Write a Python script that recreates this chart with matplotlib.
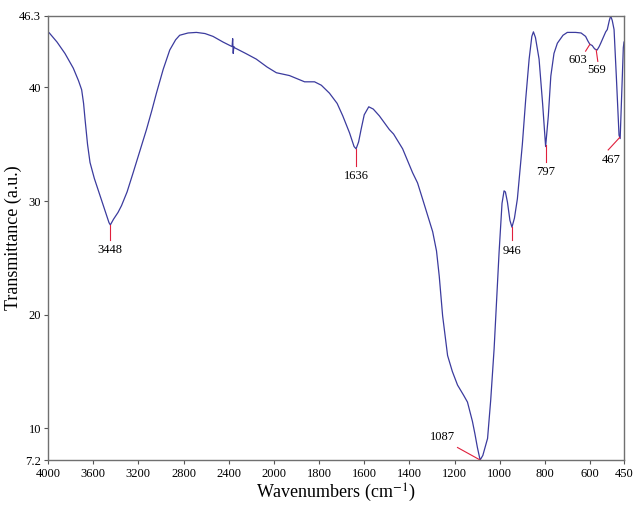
import numpy as np
import matplotlib
matplotlib.use("Agg")
import matplotlib.pyplot as plt

# FTIR spectrum (wavenumber cm-1, transmittance)
wavenumber = [4000, 3988, 3920, 3850, 3776, 3730, 3702, 3685, 3672, 3650, 3628,
              3590, 3540, 3490, 3460, 3448, 3420, 3380, 3349, 3300, 3246,
              3190, 3128, 3080, 3040, 2980, 2922, 2870, 2834, 2760, 2686,
              2610, 2539, 2450, 2370, 2365, 2360, 2355, 2348, 2250, 2156,
              2060, 1989, 1931, 1864, 1820, 1790, 1754, 1720, 1695, 1665,
              1645, 1636, 1625, 1614, 1600, 1580, 1560, 1533, 1489, 1470,
              1430, 1386, 1364, 1342, 1297, 1280, 1268, 1253, 1240, 1231, 1210, 1187,
              1160, 1143, 1121, 1110, 1099, 1087, 1075, 1054, 1040, 1025, 1003,
              990, 981, 975, 966, 955, 946, 935, 922, 900, 885,
              870, 858, 851, 842, 826, 810, 797, 785, 774, 760,
              745, 720, 701, 664, 640, 620, 610, 601, 591, 580,
              569, 560, 553, 540, 531, 524, 515, 509, 502, 494,
              484, 472, 467, 460, 453, 450]
transmittance = [44.9, 44.8, 44.0, 43.0, 41.7, 40.6, 39.8, 38.6, 37.2, 35.0, 33.4,
                 32.0, 30.5, 29.0, 28.1, 27.9, 28.4, 29.0, 29.6, 30.8, 32.5,
                 34.3, 36.3, 38.0, 39.5, 41.6, 43.3, 44.2, 44.6, 44.8, 44.85,
                 44.75, 44.5, 44.0, 43.6, 44.3, 43.0, 43.6, 43.5, 43.0, 42.5,
                 41.8, 41.3, 41.05, 40.5, 40.5, 40.2, 39.5, 38.6, 37.5, 36.0,
                 34.8, 34.6, 35.2, 36.3, 37.6, 38.3, 38.1, 37.5, 36.3, 35.9,
                 34.6, 32.5, 31.6, 30.2, 27.3, 25.6, 23.4, 19.9, 17.8, 16.4, 15.0, 13.8,
                 12.9, 12.3, 10.6, 9.5, 8.3, 7.2, 7.6, 9.1, 12.5, 17.0, 25.5,
                 29.8, 30.9, 30.8, 29.9, 28.3, 27.7, 28.5, 30.2, 35.0, 39.0,
                 42.5, 44.5, 44.9, 44.4, 42.5, 38.5, 34.8, 37.5, 41.0, 43.0,
                 43.9, 44.6, 44.85, 44.85, 44.8, 44.5, 44.1, 43.8, 43.7, 43.4,
                 43.3, 43.6, 43.9, 44.5, 44.9, 45.1, 45.9, 46.3, 45.9, 45.1,
                 41.0, 35.8, 35.5, 39.5, 43.5, 44.0]

# peak labels: (label, w at curve, T at curve, line end w, line end T, text w, text T)
peaks = [("3448", 3448, 27.9, 3448, 26.6, 3448, 25.7),
         ("1636", 1636, 34.6, 1636, 33.1, 1636, 32.2),
         ("946", 946, 27.7, 946, 26.6, 946, 25.6),
         ("797", 797, 34.9, 797, 33.4, 797, 32.6),
         ("1087", 1087, 7.2, 1187, 8.3, 1255, 9.2),
         ("603", 601, 43.8, 620, 43.2, 655, 42.4),
         ("569", 573, 43.3, 566, 42.3, 569, 41.5),
         ("467", 469, 35.6, 520, 34.5, 505, 33.6)]

xticks = [4000, 3600, 3200, 2800, 2400, 2000, 1800, 1600, 1400, 1200, 1000, 800, 600, 450]
yticks = [7.2, 10, 20, 30, 40, 46.3]


# above 2000 cm-1 the axis is compressed by half
def fwd(x):
    x = np.asarray(x, dtype=float)
    return np.where(x > 2000, 2000 + (x - 2000) / 2, x)


def inv(t):
    t = np.asarray(t, dtype=float)
    return np.where(t > 2000, 2000 + 2 * (t - 2000), t)


plt.rcParams['font.family'] = ['Liberation Serif', 'DejaVu Serif']
plt.rcParams['mathtext.fontset'] = 'stix'

fig = plt.figure(figsize=(6.4, 5.11), dpi=100)
ax = fig.add_axes([0.075, 0.0998, 0.9, 0.869])
ax.set_xscale('function', functions=(fwd, inv))

ax.plot(wavenumber, transmittance, color='#3b3b9e', lw=0.9)

for lab, w0, t0, w1, t1, wt, tt in peaks:
    ax.plot([w0, w1], [t0, t1], color='#e0203c', lw=0.8)
    ax.text(wt, tt, lab, ha='center', va='center', fontsize=9)

ax.set_xlim(4000, 450)
ax.set_ylim(7.2, 46.3)
ax.set_xticks(xticks)
ax.set_xticklabels([str(v) for v in xticks])
ax.set_yticks(yticks)
ax.set_yticklabels(['7.2', '10', '20', '30', '40', '46.3'])
ax.xaxis.set_minor_locator(matplotlib.ticker.NullLocator())
ax.tick_params(labelsize=9, length=3, width=0.8, color='#555555', pad=2)
ax.tick_params(axis='x', pad=3)

for s in ax.spines.values():
    s.set_color('#707070')
    s.set_linewidth(1.0)

ax.set_xlabel('Wavenumbers (cm$^{\\mathrm{-1}}$)', fontsize=13)
ax.set_ylabel('Transmittance (a.u.)', fontsize=13)
ax.xaxis.set_label_coords(0.5, -0.05)
ax.yaxis.set_label_coords(-0.045, 0.5)

fig.savefig('out.png', dpi=100)
